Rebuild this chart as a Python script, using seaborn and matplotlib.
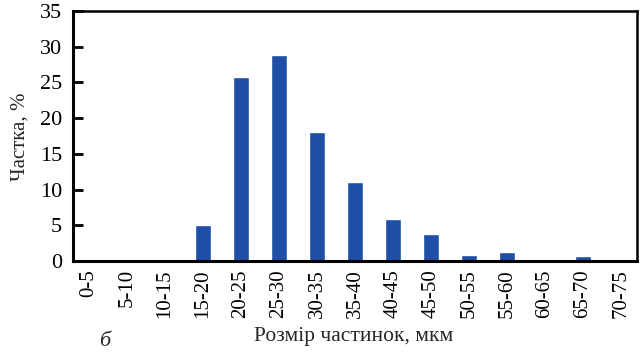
import matplotlib
matplotlib.use("Agg")
import matplotlib.pyplot as plt
import seaborn as sns
import pandas as pd

categories = ["0-5", "5-10", "10-15", "15-20", "20-25", "25-30", "30-35", "35-40",
              "40-45", "45-50", "50-55", "55-60", "60-65", "65-70", "70-75"]
shares = [0, 0, 0, 5.1, 25.7, 28.8, 18.0, 11.1, 5.9, 3.8, 0.9, 1.2, 0, 0.7, 0]
y_ticks = [0, 5, 10, 15, 20, 25, 30, 35]

sns.set_theme(style="white")
plt.rcParams["font.family"] = ["Liberation Serif", "DejaVu Serif"]

df = pd.DataFrame({"size": categories, "share": shares})

fig = plt.figure(figsize=(6.41, 3.53), dpi=100)
ax = fig.add_axes([73 / 641, 1 - 261 / 353, (637 - 73) / 641, (261 - 11) / 353])

sns.barplot(data=df, x="size", y="share", order=categories, color="#1f4fa6",
            width=0.4, saturation=1, ax=ax)

ax.set_xlim(-0.42, 14.42)
ax.set_ylim(0, 35)
ax.set_yticks(y_ticks)
ax.set_yticklabels([str(v) for v in y_ticks], fontsize=16)
ax.set_xticks(range(len(categories)))
ax.set_xticklabels(categories, rotation=90, fontsize=15)
ax.tick_params(axis="y", direction="in", length=7, width=2, left=True, pad=8, colors="black")
ax.tick_params(axis="x", length=0, pad=6, colors="black")

for side in ["left", "bottom"]:
    ax.spines[side].set_linewidth(2.2)
    ax.spines[side].set_color("black")
for side in ["top", "right"]:
    ax.spines[side].set_linewidth(1.8)
    ax.spines[side].set_color("black")

ax.set_ylabel("")
ax.set_xlabel("")
fig.text(20 / 641, 1 - 137 / 353, "Частка, %", fontsize=15, rotation=90,
         ha="center", va="center")
fig.text(354 / 641, 1 - 337 / 353, "Розмір частинок, мкм", fontsize=15.5,
         ha="center", va="center")
fig.text(105 / 641, 1 - 341 / 353, "б", fontsize=16, style="italic",
         ha="center", va="center")

fig.savefig("out.png", dpi=100)
